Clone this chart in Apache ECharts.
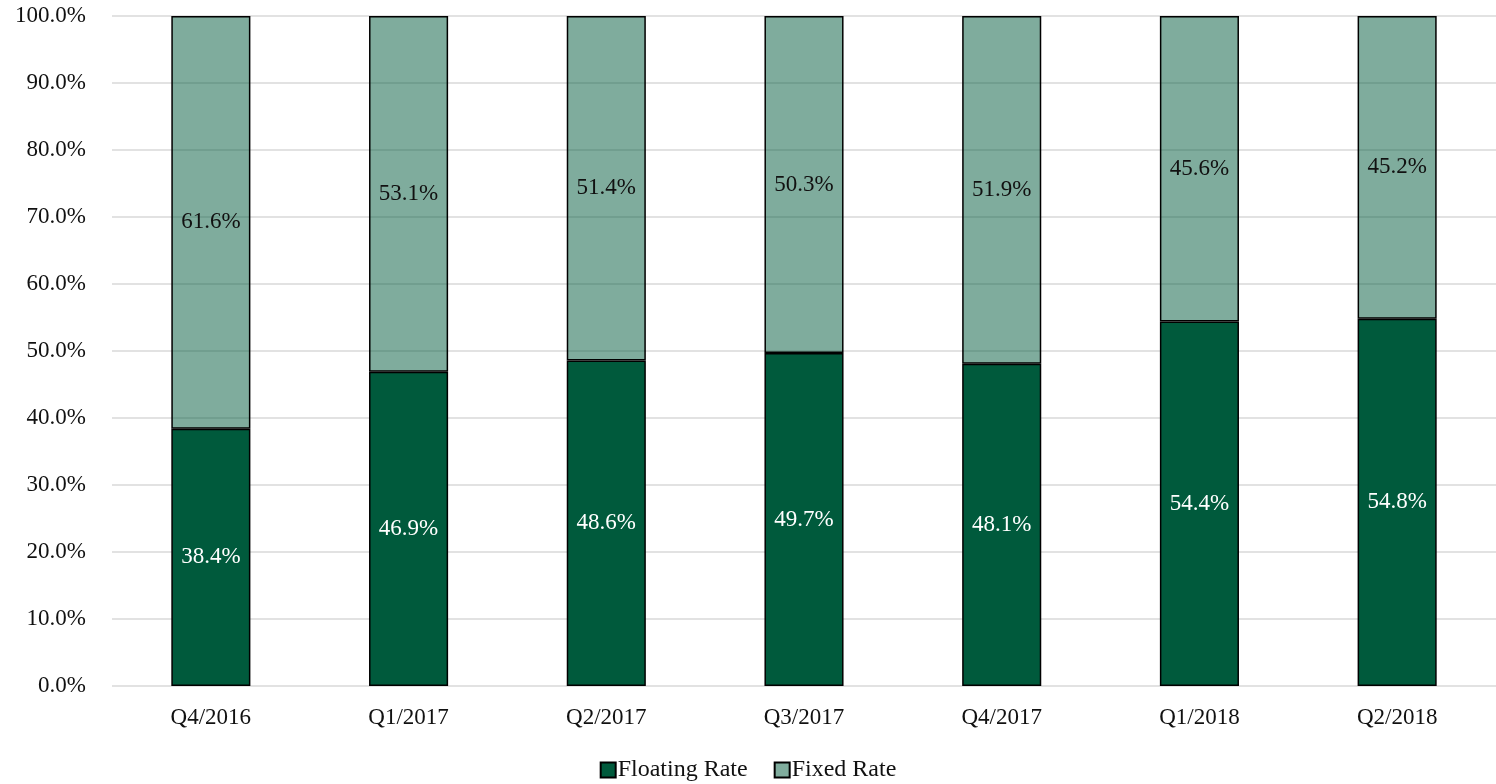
<!DOCTYPE html>
<html>
<head>
<meta charset="utf-8">
<script src="https://cdn.jsdelivr.net/npm/echarts@6/dist/echarts.min.js"></script>
<style>
  html, body { margin: 0; padding: 0; background: #fff; }
  #main { width: 1496px; height: 784px; }
</style>
</head>
<body>
<div id="main"></div>
<script>
// quarters on the x axis
var quarters = ["Q4/2016", "Q1/2017", "Q2/2017", "Q3/2017", "Q4/2017", "Q1/2018", "Q2/2018"];
// share of floating vs fixed rate, percent
var floatingRate = [38.4, 46.9, 48.6, 49.7, 48.1, 54.4, 54.8];
var fixedRate = [61.6, 53.1, 51.4, 50.3, 51.9, 45.6, 45.2];

var font = "Liberation Serif";
var myChart = echarts.init(document.getElementById("main"));

function pct(v) { return v.toFixed(1) + "%"; }

myChart.setOption({
  animation: false,
  textStyle: { fontFamily: font },
  grid: { left: 112, right: 0, top: 16, bottom: 98 },
  legend: {
    top: 753,
    left: "center",
    itemWidth: 15,
    itemHeight: 15,
    itemGap: 26,
    icon: "rect",
    textStyle: { fontFamily: font, fontSize: 24, color: "#111", padding: [0, 0, 0, -3] },
    data: ["Floating Rate", "Fixed Rate"]
  },
  xAxis: {
    type: "category",
    data: quarters,
    axisLine: { show: false },
    axisTick: { show: false },
    axisLabel: { fontFamily: font, fontSize: 23, color: "#111", margin: 20 }
  },
  yAxis: {
    type: "value",
    min: 0,
    max: 100,
    interval: 10,
    axisLine: { show: false },
    axisTick: { show: false },
    splitLine: { lineStyle: { color: "#d9d9d9", width: 1.5 } },
    axisLabel: {
      fontFamily: font,
      fontSize: 23,
      color: "#111",
      margin: 26,
      formatter: function (v) { return pct(v); }
    }
  },
  series: [
    {
      name: "Floating Rate",
      type: "bar",
      stack: "total",
      barWidth: "40%",
      data: floatingRate,
      itemStyle: { color: "#005a3c", borderColor: "#000", borderWidth: 1.5 },
      label: {
        show: true,
        position: "inside",
        color: "#fff",
        fontFamily: font,
        fontSize: 23,
        formatter: function (p) { return pct(p.value); }
      }
    },
    {
      name: "Fixed Rate",
      type: "bar",
      stack: "total",
      barWidth: "40%",
      data: fixedRate,
      itemStyle: { color: "rgba(0,90,60,0.5)", borderColor: "#000", borderWidth: 1.5 },
      label: {
        show: true,
        position: "inside",
        color: "#111",
        fontFamily: font,
        fontSize: 23,
        formatter: function (p) { return pct(p.value); }
      }
    }
  ]
});

window.addEventListener("resize", function () { myChart.resize(); });
</script>
</body>
</html>
